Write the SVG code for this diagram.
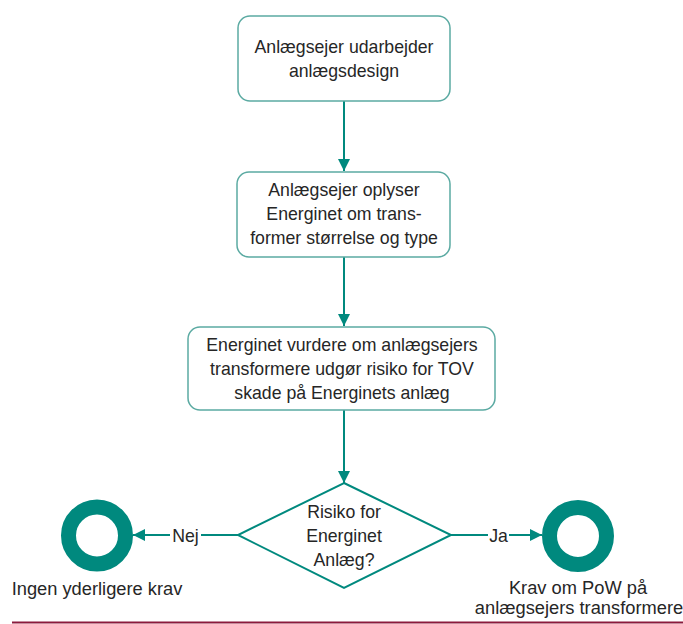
<svg xmlns="http://www.w3.org/2000/svg" width="683" height="624" viewBox="0 0 683 624">
<defs>
<style>
.box{fill:#fff;stroke:#5BAAA2;stroke-width:1.5}
.t{font-family:"Liberation Sans",Arial,sans-serif;font-size:17.7px;fill:#262626;text-anchor:middle}
.l{font-size:18.3px}
.c{stroke:#00897E;stroke-width:2;fill:none}
.ring{fill:none;stroke:#00897E;stroke-width:15}
</style>
<marker id="ah2" viewBox="0 0 12 12" refX="12" refY="6" markerWidth="12" markerHeight="12" orient="auto" markerUnits="userSpaceOnUse">
<path d="M0,0 L12,6 L0,12 z" fill="#00897E"/>
</marker>
</defs>
<rect width="683" height="624" fill="#fff"/>
<g id="connectors">
<line class="c" x1="344" y1="101" x2="344" y2="171" marker-end="url(#ah2)"/>
<line class="c" x1="344" y1="257" x2="344" y2="326" marker-end="url(#ah2)"/>
<line class="c" x1="344" y1="410" x2="344" y2="483" marker-end="url(#ah2)"/>
<line class="c" x1="238" y1="535" x2="133" y2="535" marker-end="url(#ah2)"/>
<line class="c" x1="451" y1="535" x2="542" y2="535" marker-end="url(#ah2)"/>
<rect x="170" y="524" width="31" height="22" fill="#fff"/>
<text class="t" x="185.5" y="541.5">Nej</text>
<rect x="488" y="524" width="21" height="22" fill="#fff"/>
<text class="t" x="498.5" y="541.5">Ja</text>
</g>
<g id="n1">
<rect class="box" x="238" y="16" width="212" height="85" rx="12"/>
<text class="t" x="344" y="53">Anlægsejer udarbejder</text>
<text class="t" x="344" y="77">anlægsdesign</text>
</g>
<g id="n2">
<rect class="box" x="237" y="172" width="213" height="85" rx="12"/>
<text class="t" x="344" y="196">Anlægsejer oplyser</text>
<text class="t" x="344" y="220">Energinet om trans-</text>
<text class="t" x="344" y="244">former størrelse og type</text>
</g>
<g id="n3">
<rect class="box" x="188" y="327" width="307" height="83" rx="12"/>
<text class="t" x="342" y="351">Energinet vurdere om anlægsejers</text>
<text class="t" x="342" y="375">transformere udgør risiko for TOV</text>
<text class="t" x="342" y="399">skade på Energinets anlæg</text>
</g>
<g id="decision">
<polygon points="344,483 451,535 344,588 238,535" fill="#fff" stroke="#00897E" stroke-width="2"/>
<text class="t" x="344" y="518">Risiko for</text>
<text class="t" x="344" y="542">Energinet</text>
<text class="t" x="344" y="566">Anlæg?</text>
</g>
<g id="end-no">
<circle class="ring" cx="97" cy="535.5" r="28.5"/>
<text class="t l" x="97" y="595">Ingen yderligere krav</text>
</g>
<g id="end-yes">
<circle class="ring" cx="578" cy="536" r="28.5"/>
<text class="t l" x="578" y="594">Krav om PoW på</text>
<text class="t l" x="579" y="614">anlægsejers transformere</text>
</g>
<line x1="12" y1="622.5" x2="683" y2="622.5" stroke="#8B1A3C" stroke-width="1.8"/>
</svg>
